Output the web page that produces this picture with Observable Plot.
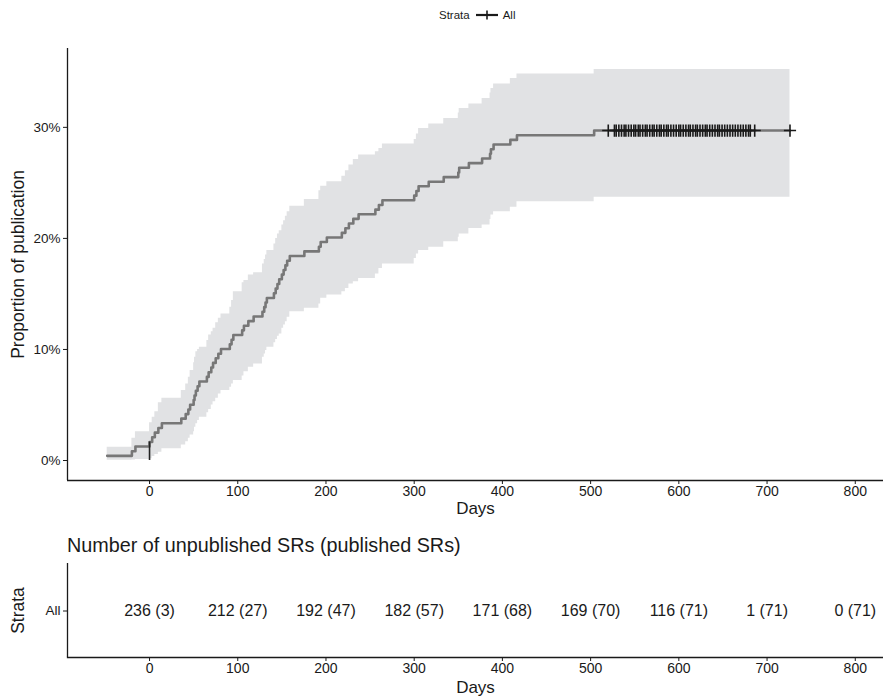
<!DOCTYPE html>
<html><head><meta charset="utf-8">
<script src="https://cdn.jsdelivr.net/npm/d3@7"></script>
<script src="https://cdn.jsdelivr.net/npm/@observablehq/plot@0.6"></script>
<style>
body{margin:0;background:#fff;font-family:"Liberation Sans",Arial,Helvetica,sans-serif;color:#1a1a1a;}
#wrap{position:relative;width:883px;height:698px;overflow:hidden;background:#fff;}
#legend{position:absolute;top:9px;left:439px;font-size:11.5px;display:flex;align-items:center;white-space:nowrap;}
#legend svg{margin:0 5px 0 6px;}
#main{position:absolute;top:0;left:0;}
#ttl{position:absolute;top:534px;left:67px;font-size:19.8px;white-space:nowrap;}
#tbl{position:absolute;top:555px;left:0;}
</style></head><body>
<div id="wrap">
  <div id="legend"><span>Strata</span><svg width="22" height="10"><line x1="0" y1="5" x2="22" y2="5" stroke="#1a1a1a" stroke-width="2.2"/><line x1="11" y1="0.5" x2="11" y2="9.5" stroke="#1a1a1a" stroke-width="1.6"/></svg><span>All</span></div>
  <div id="main"></div>
  <div id="ttl">Number of unpublished SRs (published SRs)</div>
  <div id="tbl"></div>
</div>
<script>
// ---- data ----
const stepDays = [-48,-20,-16,0,3,6,10,14,36,41,44,46,50,51,52.5,54.5,56.5,65,67,70,72,75,78,81,91,93,95,105,107,112,118,128,130,131.5,133,141,143,145,147,150,152,154,156,159,175.5,192,194,201,218,222,226,231,237,256,260,264,300,302.5,305,316.5,333.5,350,351,362,377,386,387,390,409,416.5,504];
const stepPct = [0.42,0.84,1.26,1.67,2.09,2.51,2.93,3.35,3.77,4.18,4.60,5.02,5.44,5.86,6.28,6.69,7.11,7.53,7.95,8.37,8.79,9.21,9.62,10.04,10.46,10.88,11.30,11.72,12.13,12.55,12.97,13.39,13.81,14.23,14.64,15.06,15.48,15.90,16.32,16.74,17.15,17.57,17.99,18.41,18.83,19.25,19.67,20.08,20.50,20.92,21.34,21.76,22.18,22.59,23.01,23.43,23.85,24.27,24.69,25.10,25.52,25.94,26.36,26.78,27.20,27.62,28.03,28.45,28.87,29.29,29.71];
const upperPct = [1.2,2.0,2.6,3.4,3.9,4.4,5.2,5.6,6.3,6.9,7.5,8.1,8.8,9.3,9.8,10.0,10.2,10.8,11.3,11.6,11.9,12.4,12.8,13.2,13.8,14.4,15.2,16.0,16.2,16.7,16.9,17.7,18.1,18.5,18.9,19.5,20.0,20.4,20.7,21.2,21.6,22.0,22.4,22.9,23.5,24.3,24.7,25.1,25.6,26.1,26.6,27.1,27.5,27.8,28.1,28.5,28.9,29.4,29.9,30.3,30.8,31.3,31.7,32.1,32.6,33.1,33.5,33.9,34.4,34.8,35.2];
const lowerPct = [0.02,0.05,0.1,0.15,0.36,0.55,0.75,1.05,1.4,1.7,2.0,2.3,2.6,3.0,3.3,3.6,3.9,4.3,4.6,5.0,5.3,5.6,6.0,6.3,6.6,6.9,7.2,7.6,8.0,8.4,8.7,9.3,9.6,9.9,10.2,10.6,10.9,11.2,11.4,11.9,12.2,12.5,12.9,13.4,13.7,14.1,14.6,14.9,15.2,15.5,15.9,16.1,16.4,16.8,17.3,17.7,18.2,18.6,18.9,19.2,19.7,20.1,20.4,20.9,21.2,21.7,22.1,22.4,22.8,23.3,23.7];
const lastDay = 726;
const censorDays = [520,527,529,532,535,538,540,543,546,549,551,554,556,559,562,564,567,570,572,575,578,580,583,586,588,591,594,597,600,602,605,608,611,613,616,619,621,624,627,630,632,635,638,641,644,646,649,652,655,658,661,664,667,670,673,676,679,681,686,726];
const riskDays = [0,100,200,300,400,500,600,700,800];
const nUnpublished = [236,212,192,182,171,169,116,1,0];
const nPublished = [3,27,47,57,68,70,71,71,71];
const strata = ["All"];
const xTicks = [0,100,200,300,400,500,600,700,800];
const yTicks = [0,10,20,30];

// ---- layout constants ----
const xDomain = [-93, 832];
const yDomain = [-1.8, 37.1];
const font = "Liberation Sans, Arial, Helvetica, sans-serif";

const last = stepPct.length - 1;
const rows = stepDays.map((d, i) => ({day: d, est: stepPct[i], lo: lowerPct[i], hi: upperPct[i]}));
rows.push({day: lastDay, est: stepPct[last], lo: lowerPct[last], hi: upperPct[last]});

const main = Plot.plot({
  width: 883, height: 520,
  marginLeft: 67, marginRight: 0, marginTop: 48, marginBottom: 40,
  style: {fontFamily: font, fontSize: "13.5px", color: "#1a1a1a", background: "transparent", overflow: "visible"},
  x: {domain: xDomain},
  y: {domain: yDomain},
  marks: [
    Plot.areaY(rows, {x: "day", y1: "lo", y2: "hi", curve: "step-after", fill: "#e1e2e4"}),
    Plot.line(rows, {x: "day", y: "est", curve: "step-after", stroke: "#777777", strokeWidth: 2.6}),
    Plot.ruleX([0], {y1: 0, y2: stepPct[3], stroke: "#222", strokeWidth: 1.6}),
    Plot.dot(censorDays, {x: d => d, y: () => stepPct[last], symbol: "plus", r: 4, stroke: "#1a1a1a", strokeWidth: 1.6}),
    Plot.axisX({ticks: xTicks, tickSize: 4, tickPadding: 2, label: null, fontSize: 14}),
    Plot.axisY({ticks: yTicks, tickFormat: d => d + "%", tickSize: 4, tickPadding: 3, label: null, fontSize: 13.5}),
    Plot.ruleX([xDomain[0]], {stroke: "#1a1a1a", strokeWidth: 1.3}),
    Plot.ruleY([yDomain[0]], {stroke: "#1a1a1a", strokeWidth: 1.3}),
    Plot.text(["Days"], {frameAnchor: "bottom", dy: 33, fontSize: 17, fill: "#1a1a1a"}),
    Plot.text(["Proportion of publication"], {frameAnchor: "left", textAnchor: "middle", dx: -49, rotate: -90, fontSize: 17.5, fill: "#1a1a1a"})
  ]
});
document.getElementById("main").appendChild(main);

const tableRows = riskDays.map((d, i) => ({day: d, strata: strata[0], label: `${nUnpublished[i]} (${nPublished[i]})`}));

const tbl = Plot.plot({
  width: 883, height: 143,
  marginLeft: 67, marginRight: 0, marginTop: 8, marginBottom: 41,
  style: {fontFamily: font, fontSize: "13.5px", color: "#1a1a1a", background: "transparent", overflow: "visible"},
  x: {domain: xDomain},
  y: {domain: strata, type: "band"},
  marks: [
    Plot.text(tableRows, {x: "day", y: "strata", text: "label", fontSize: 16, fill: "#1a1a1a"}),
    Plot.axisX({ticks: xTicks, tickSize: 4, tickPadding: 2, label: null, fontSize: 14}),
    Plot.axisY({tickSize: 4, tickPadding: 3, label: null, fontSize: 13.5}),
    Plot.ruleX([xDomain[0]], {stroke: "#1a1a1a", strokeWidth: 1.3}),
    Plot.frame({anchor: "bottom", stroke: "#1a1a1a", strokeWidth: 1.3}),
    Plot.text(["Days"], {frameAnchor: "bottom", dy: 35, fontSize: 17, fill: "#1a1a1a"}),
    Plot.text(["Strata"], {frameAnchor: "left", textAnchor: "middle", dx: -49, rotate: -90, fontSize: 17.5, fill: "#1a1a1a"})
  ]
});
document.getElementById("tbl").appendChild(tbl);
</script>
</body></html>
